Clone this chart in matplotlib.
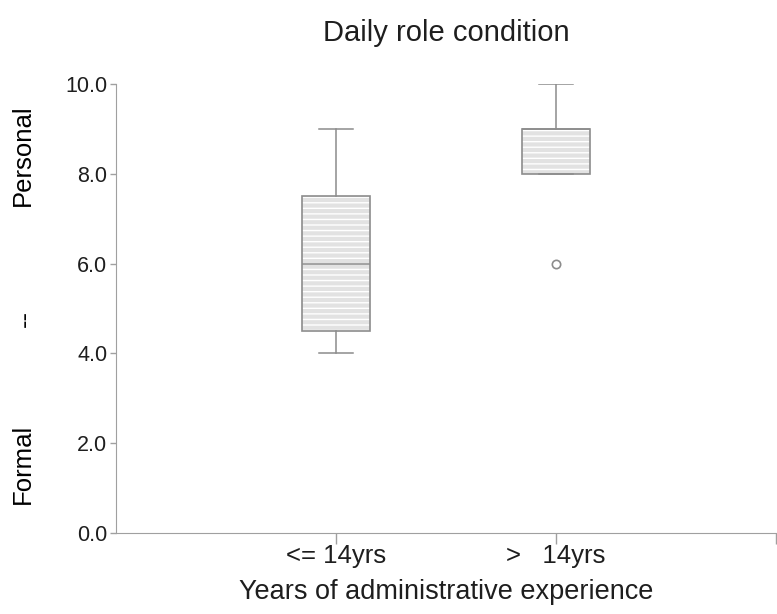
import matplotlib.pyplot as plt
from matplotlib.patches import PathPatch

plt.rcParams['font.family'] = ['Liberation Sans', 'DejaVu Sans']

# Box statistics
groups = ["<= 14yrs", ">   14yrs"]
q1 = [4.5, 8.0]
medians = [6.0, 9.0]
q3 = [7.5, 9.0]
whislo = [4.0, 8.0]
whishi = [9.0, 10.0]
fliers = [[], [6.0]]
yticks = [0.0, 2.0, 4.0, 6.0, 8.0, 10.0]

stats = []
for i in range(len(groups)):
    stats.append(dict(label=groups[i], q1=q1[i], med=medians[i], q3=q3[i],
                      whislo=whislo[i], whishi=whishi[i], fliers=fliers[i]))

fig = plt.figure(figsize=(7.77, 6.14), dpi=100)
ax = fig.add_axes([0.149, 0.132, 0.85, 0.731])

edge = "#8c8c8c"
bp = ax.bxp(stats, positions=[1, 2], widths=0.31, patch_artist=True,
            boxprops=dict(facecolor="#e2e2e2", edgecolor="white", hatch="---", linewidth=0),
            medianprops=dict(color=edge, linewidth=1.1),
            whiskerprops=dict(color=edge, linewidth=1.1),
            capprops=dict(color=edge, linewidth=1.1),
            flierprops=dict(marker="o", markersize=6, markerfacecolor="none",
                            markeredgecolor=edge, markeredgewidth=1.2))
# outline for each box
for b in bp["boxes"]:
    ax.add_patch(PathPatch(b.get_path(), facecolor="none", edgecolor=edge,
                           linewidth=1.2, zorder=b.get_zorder() + 0.1))

ax.set_xlim(0, 3)
ax.set_ylim(0, 10)
ax.set_xticks([1, 2, 3])
ax.set_xticklabels(groups + [""], fontsize=18.5)
ax.set_yticks(yticks)
ax.set_yticklabels(["%.1f" % v for v in yticks], fontsize=15.5)

for s in ["top", "right"]:
    ax.spines[s].set_visible(False)
for s in ["left", "bottom"]:
    ax.spines[s].set_color("#a0a0a0")
ax.tick_params(colors="#a0a0a0", labelcolor="#1e1e1e", width=1)
ax.tick_params(axis="y", length=4, pad=2)
ax.tick_params(axis="x", length=8, pad=0)

ax.set_title("Daily role condition", fontsize=21, pad=31, color="#1e1e1e")
ax.set_xlabel("Years of administrative experience", fontsize=19.5, labelpad=8,
              color="#1e1e1e")

# three-part y label
fig.text(0.029, 0.748, "Personal", rotation=90, ha="center", va="center", fontsize=18.5)
fig.text(0.032, 0.482, "--", rotation=90, ha="center", va="center", fontsize=18.5)
fig.text(0.029, 0.244, "Formal", rotation=90, ha="center", va="center", fontsize=18.5)

plt.savefig("out.png", dpi=100)
